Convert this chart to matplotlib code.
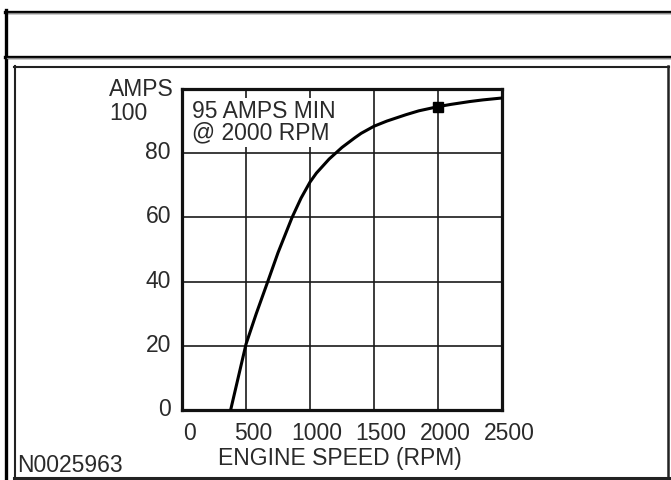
import matplotlib
matplotlib.use("Agg")
import matplotlib.pyplot as plt
from matplotlib.lines import Line2D
from matplotlib.transforms import ScaledTranslation

# alternator output curve
rpm = [380, 500, 580, 670, 750, 800, 860, 930, 1000, 1050, 1100, 1150, 1200,
       1250, 1350, 1400, 1500, 1600, 1750, 1850, 2000, 2100, 2250, 2350, 2500]
amps = [0, 20.5, 30, 40, 49, 54, 60, 66, 71, 73.8, 76, 78.2, 80,
        81.8, 84.8, 86.2, 88.4, 90, 92, 93.2, 94.5, 95.2, 96.1, 96.6, 97.2]
spec_rpm = [2000]
spec_amps = [94.5]
x_ticks = [0, 500, 1000, 1500, 2000, 2500]
y_ticks = [0, 20, 40, 60, 80]

W, H = 671, 480
plt.rcParams['font.family'] = ['Liberation Sans', 'DejaVu Sans']
txt_col = '#2a2a2a'
fs = 16.5

fig = plt.figure(figsize=(W / 100, H / 100), dpi=100)


def fx(px):
    return px / W


def fy(py):
    return 1 - py / H


# frame lines of the page
def hline(y, x0, x1, lw, c='black'):
    fig.add_artist(Line2D([fx(x0), fx(x1)], [fy(y), fy(y)], lw=lw, color=c,
                          transform=fig.transFigure))


def vline(x, y0, y1, lw, c='black'):
    fig.add_artist(Line2D([fx(x), fx(x)], [fy(y0), fy(y1)], lw=lw, color=c,
                          transform=fig.transFigure))


hline(11.5, 5, 671, 2.4)
hline(13.2, 7, 671, 0.9, '#888888')
vline(5.8, 10, 480, 2.4)
hline(56.5, 5, 671, 2.4)
hline(58.3, 7, 671, 0.9, '#888888')
# inner box
hline(66.5, 14, 668.5, 1.5, '#222222')
hline(478, 14, 669, 2.2, '#222222')
vline(14.8, 66, 478.5, 1.5, '#222222')
vline(668.2, 66, 478.5, 1.8, '#222222')

ax = fig.add_axes([fx(182), fy(410), fx(502) - fx(182), (410 - 89) / H])
ax.set_xlim(0, 2500)
ax.set_ylim(0, 100)
ax.set_xticks(x_ticks)
ax.set_yticks(y_ticks + [100])
ax.set_xticklabels([str(v) for v in x_ticks])
ax.set_yticklabels([str(v) for v in y_ticks] + [''])
ax.grid(True, color='#1a1a1a', lw=1.2)
ax.set_axisbelow(True)
for s in ax.spines.values():
    s.set_linewidth(2.3)
    s.set_color('#111111')
ax.tick_params(length=0, labelsize=fs, labelcolor=txt_col)
ax.tick_params(axis='x', pad=9)
ax.tick_params(axis='y', pad=8)
for lab in ax.get_xticklabels():
    lab.set_transform(lab.get_transform() + ScaledTranslation(7 / 100, 0, fig.dpi_scale_trans))
for lab in ax.get_yticklabels():
    lab.set_transform(lab.get_transform() + ScaledTranslation(0, 3 / 100, fig.dpi_scale_trans))

ax.plot(rpm, amps, color='black', lw=2.2, solid_capstyle='butt', zorder=3)
ax.plot(spec_rpm, spec_amps, 's', color='black', ms=7.5, zorder=4)

ax.text(82, 89.6, '95 AMPS MIN\n@ 2000 RPM', fontsize=fs, color=txt_col,
        ha='left', va='center', linespacing=0.95, zorder=2.5,
        bbox=dict(facecolor='white', edgecolor='none', pad=1.5))

fig.text(fx(109), fy(89), 'AMPS', fontsize=fs, color=txt_col, ha='left', va='center')
fig.text(fx(109), fy(114), '100', fontsize=fs, color=txt_col, ha='left', va='center')
fig.text(fx(340), fy(459), 'ENGINE SPEED (RPM)', fontsize=fs, color=txt_col,
         ha='center', va='center')
fig.text(fx(17), fy(465), 'N0025963', fontsize=fs, color=txt_col, ha='left', va='center')

fig.savefig('out.png', dpi=100)
